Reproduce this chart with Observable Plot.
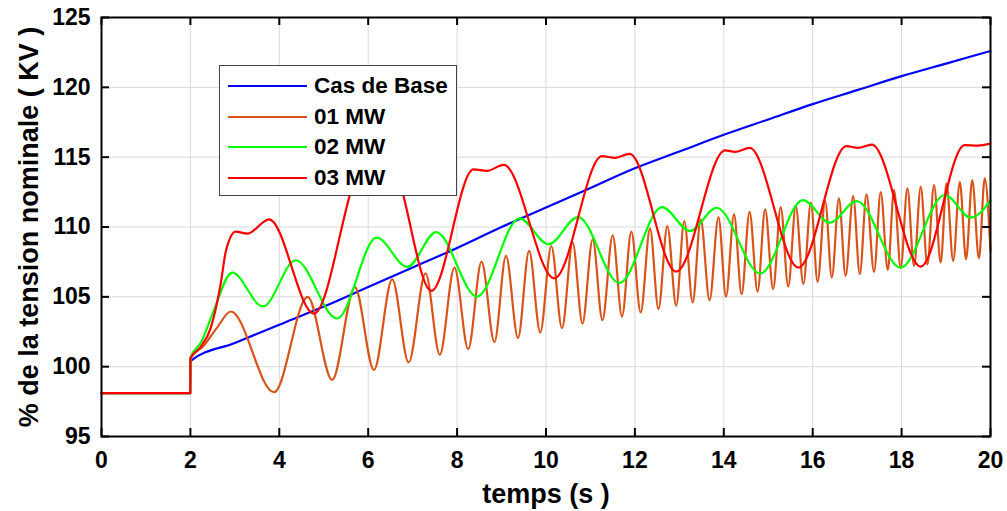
<!DOCTYPE html>
<html>
<head>
<meta charset="utf-8">
<script src="https://cdn.jsdelivr.net/npm/d3@7"></script>
<script src="https://cdn.jsdelivr.net/npm/@observablehq/plot@0.6"></script>
<style>
  html, body { margin: 0; padding: 0; background: white; }
  #wrap { position: relative; width: 1007px; height: 511px; font-family: "Liberation Sans", Arial, sans-serif; }
  #legend { position: absolute; left: 219px; top: 65px; width: 236px; height: 129px; border: 1px solid #444; background: white; }
  .row { position: absolute; left: 0; height: 30px; width: 236px; }
  .sw { position: absolute; left: 8px; top: 14px; width: 79px; height: 0; border-top: 2px solid; }
  .lab { position: absolute; left: 94px; top: 3px; font-weight: bold; font-size: 22.5px; line-height: 24px; color: #000; white-space: nowrap; }
</style>
</head>
<body>
<div id="wrap"><div id="chart"></div><div id="legend"></div></div>
<script>
// ---- tick values ----
const xTicks = [0, 2, 4, 6, 8, 10, 12, 14, 16, 18, 20];
const yTicks = [95, 100, 105, 110, 115, 120, 125];

// ---- labels ----
const xLabel = "temps (s )";
const yLabel = "% de la tension nominale ( KV )";

// ---- series names ----
const seriesNames = ["Cas de Base", "01 MW", "02 MW", "03 MW"];

// ---- series values: [temps (s), % tension] ----
const casDeBase = [
  [0, 98.1], [1.995, 98.1], [2.0, 100.4], [3, 101.7], [4, 103.0], [5, 104.3], [6, 105.7],
  [7, 107.1], [8, 108.5], [9, 110.0], [10, 111.4], [11, 112.8], [12, 114.2], [13, 115.4],
  [14, 116.6], [15, 117.7], [16, 118.8], [17, 119.8], [18, 120.8], [19, 121.7], [20, 122.6]
];

const mw01 = [
  [0, 98.1], [1.995, 98.1], [2.0, 100.6], [2.3, 101.5], [2.6, 102.8], [2.91, 103.95],
  [3.88, 98.17], [4.64, 105.0], [5.19, 99.05], [5.70, 105.7], [6.13, 99.76], [6.54, 106.26],
  [6.91, 100.31], [7.29, 106.69], [7.61, 100.86], [7.94, 107.1], [8.25, 101.26], [8.55, 107.52],
  [8.84, 101.75], [9.10, 107.93], [9.37, 102.05], [9.62, 108.29], [9.87, 102.45], [10.12, 108.64],
  [10.36, 102.76], [10.60, 108.88], [10.82, 103.09], [11.05, 109.12], [11.27, 103.33], [11.50, 109.41],
  [11.71, 103.59], [11.92, 109.67], [12.13, 103.88], [12.34, 109.9], [12.53, 104.12], [12.73, 110.07],
  [12.93, 104.36], [13.11, 110.43], [13.30, 104.6], [13.48, 110.55], [13.68, 104.76], [13.88, 110.71],
  [14.05, 105.0], [14.23, 110.9], [14.40, 105.19], [14.58, 111.09], [14.76, 105.38], [14.93, 111.26],
  [15.11, 105.55], [15.28, 111.43], [15.45, 105.74], [15.62, 111.5], [15.79, 105.91], [15.96, 111.74],
  [16.11, 106.07], [16.28, 111.86], [16.43, 106.38], [16.59, 112.05], [16.74, 106.5], [16.91, 112.21],
  [17.06, 106.62], [17.21, 112.33], [17.38, 106.79], [17.53, 112.5], [17.69, 106.93], [17.83, 112.64],
  [17.98, 107.05], [18.13, 112.76], [18.28, 107.21], [18.43, 112.88], [18.58, 107.33], [18.73, 113.0],
  [18.88, 107.45], [19.01, 113.12], [19.16, 107.57], [19.31, 113.21], [19.45, 107.69], [19.59, 113.36],
  [19.74, 107.76], [19.87, 113.48], [20.0, 108.3]
];

const mw02 = [
  [0, 98.1], [1.995, 98.1], [2.0, 100.6], [2.25, 101.8], [2.5, 103.8], [2.94, 106.74],
  [3.63, 104.31], [4.37, 107.62], [5.30, 103.45], [6.19, 109.24], [6.88, 107.14], [7.53, 109.64],
  [8.45, 105.02], [9.40, 110.62], [10.06, 108.76], [10.72, 110.71], [11.65, 105.98], [12.61, 111.43],
  [13.24, 109.71], [13.84, 111.38], [14.82, 106.67], [15.78, 111.93], [16.39, 110.31], [16.99, 111.86],
  [17.98, 107.09], [18.97, 112.29], [19.56, 110.67], [20.0, 111.9]
];

const mw03 = [
  [0, 98.1], [1.995, 98.1], [2.0, 100.6], [2.23, 101.4], [2.46, 102.8], [2.68, 105.9], [2.8, 108.3],
  [3.02, 109.67], [3.28, 109.52], [3.77, 110.55], [4.78, 103.8], [5.9, 114.3], [6.2, 114.1],
  [6.5, 114.4], [7.42, 105.43], [8.37, 114.12], [8.67, 114.02], [9.05, 114.45], [10.19, 106.33],
  [11.26, 115.07], [11.56, 114.95], [11.88, 115.24], [12.93, 106.81], [14.03, 115.48], [14.25, 115.38],
  [14.58, 115.66], [15.68, 107.09], [16.76, 115.79], [17.02, 115.67], [17.33, 115.9], [18.43, 107.17],
  [19.42, 115.86], [19.72, 115.83], [20.0, 115.97]
];

// ---- styling ----
const colors = ["#0000ff", "#d95319", "#00ff00", "#ff0000"];
const FONT = '"Liberation Sans", Arial, sans-serif';

const allSeries = [casDeBase, mw01, mw02, mw03];
const rows = [];
allSeries.forEach((arr, i) => arr.forEach(([t, v]) => rows.push({t, v, series: seriesNames[i]})));

const W = 1007, H = 511, mL = 101, mR = 17, mT = 17, mB = 75;
const plotW = W - mL - mR, plotH = H - mT - mB;
const tick = 8;

const chart = Plot.plot({
  width: W, height: H,
  marginLeft: mL, marginRight: mR, marginTop: mT, marginBottom: mB,
  style: {fontFamily: FONT, fontSize: "23px", fontWeight: "bold", color: "#000", background: "white", overflow: "visible"},
  x: {domain: [0, 20]},
  y: {domain: [95, 125]},
  color: {domain: seriesNames, range: colors},
  marks: [
    Plot.gridX(xTicks, {stroke: "#d9d9d9", strokeOpacity: 1, strokeWidth: 1}),
    Plot.gridY(yTicks, {stroke: "#d9d9d9", strokeOpacity: 1, strokeWidth: 1}),
    Plot.line(rows, {x: "t", y: "v", z: "series", stroke: "series", strokeWidth: 2.2, curve: "monotone-x"}),
    Plot.frame({stroke: "#000", strokeWidth: 2}),
    Plot.ruleX(xTicks, {stroke: "#000", strokeWidth: 2, insetTop: plotH - tick}),
    Plot.ruleX(xTicks, {stroke: "#000", strokeWidth: 2, insetBottom: plotH - tick}),
    Plot.ruleY(yTicks, {stroke: "#000", strokeWidth: 2, insetRight: plotW - tick}),
    Plot.ruleY(yTicks, {stroke: "#000", strokeWidth: 2, insetLeft: plotW - tick}),
    Plot.axisX(xTicks, {tickSize: 0, tickPadding: 15, fontSize: 23, fontWeight: "bold", label: null}),
    Plot.axisY(yTicks, {tickSize: 0, tickPadding: 11, fontSize: 23, fontWeight: "bold", label: null}),
    Plot.text([xLabel], {text: d => d, frameAnchor: "bottom", lineAnchor: "middle", textAnchor: "middle", dy: 58, fontSize: 27, fontWeight: "bold", fill: "#000"}),
    Plot.text([yLabel], {text: d => d, frameAnchor: "left", lineAnchor: "middle", textAnchor: "middle", dx: -72, rotate: -90, fontSize: 27, fontWeight: "bold", fill: "#000"})
  ]
});
document.getElementById("chart").appendChild(chart);

// ---- legend ----
const legend = document.getElementById("legend");
seriesNames.forEach((name, i) => {
  const r = document.createElement("div");
  r.className = "row";
  r.style.top = (5 + i * 30.7) + "px";
  const sw = document.createElement("div");
  sw.className = "sw";
  sw.style.borderTopColor = colors[i];
  const lb = document.createElement("div");
  lb.className = "lab";
  lb.textContent = name;
  r.appendChild(sw); r.appendChild(lb);
  legend.appendChild(r);
});
</script>
</body>
</html>
